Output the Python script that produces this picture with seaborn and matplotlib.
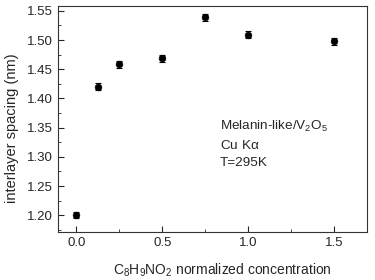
import matplotlib
matplotlib.use("Agg")
import matplotlib.pyplot as plt
from matplotlib.ticker import MultipleLocator, FormatStrFormatter
import seaborn as sns
import pandas as pd

# normalized concentration vs interlayer spacing
conc = [0.0, 0.125, 0.25, 0.5, 0.75, 1.0, 1.5]
spacing = [1.200, 1.420, 1.459, 1.469, 1.539, 1.509, 1.498]
err = [0.005, 0.006, 0.006, 0.006, 0.006, 0.006, 0.006]

notes = ['Melanin-like/V$_2$O$_5$', 'Cu K$\\alpha$', 'T=295K']

df = pd.DataFrame({'conc': conc, 'spacing': spacing, 'err': err})

sns.set_style('ticks')
plt.rcParams['font.family'] = ['Liberation Sans', 'DejaVu Sans']
plt.rcParams['mathtext.fontset'] = 'custom'
plt.rcParams['mathtext.rm'] = 'Liberation Sans'
plt.rcParams['mathtext.it'] = 'Liberation Sans'

fig = plt.figure(figsize=(3.75, 2.8), dpi=100)
ax = fig.add_axes([0.155, 0.171, 0.824, 0.808])

ax.errorbar(df['conc'], df['spacing'], yerr=df['err'], fmt='none',
            ecolor='black', elinewidth=0.8, capsize=2, capthick=0.8)
sns.scatterplot(data=df, x='conc', y='spacing', ax=ax, color='black',
                s=24, edgecolor='black', zorder=3)

ax.set_xlim(-0.105, 1.69)
ax.set_ylim(1.171, 1.5586)
ax.xaxis.set_major_locator(MultipleLocator(0.5))
ax.xaxis.set_minor_locator(MultipleLocator(0.25))
ax.yaxis.set_major_locator(MultipleLocator(0.05))
ax.yaxis.set_minor_locator(MultipleLocator(0.025))
ax.xaxis.set_major_formatter(FormatStrFormatter('%.1f'))
ax.yaxis.set_major_formatter(FormatStrFormatter('%.2f'))
ax.tick_params(which='major', direction='in', length=4, width=0.8, labelsize=9.5)
ax.tick_params(which='minor', direction='in', length=2, width=0.6)
for s in ax.spines.values():
    s.set_linewidth(0.8)
    s.set_color('#333333')

ax.set_xlabel('C$_8$H$_9$NO$_2$ normalized concentration', fontsize=10)
ax.xaxis.set_label_coords(0.531, -0.13)
ax.set_ylabel('interlayer spacing (nm)', fontsize=10.5)
ax.yaxis.set_label_coords(-0.128, 0.46)

for i, line in enumerate(notes):
    ax.text(0.524, [0.469, 0.381, 0.305][i], line, transform=ax.transAxes,
            fontsize=9.7, va='center', ha='left')

fig.savefig('out.png', dpi=100)
